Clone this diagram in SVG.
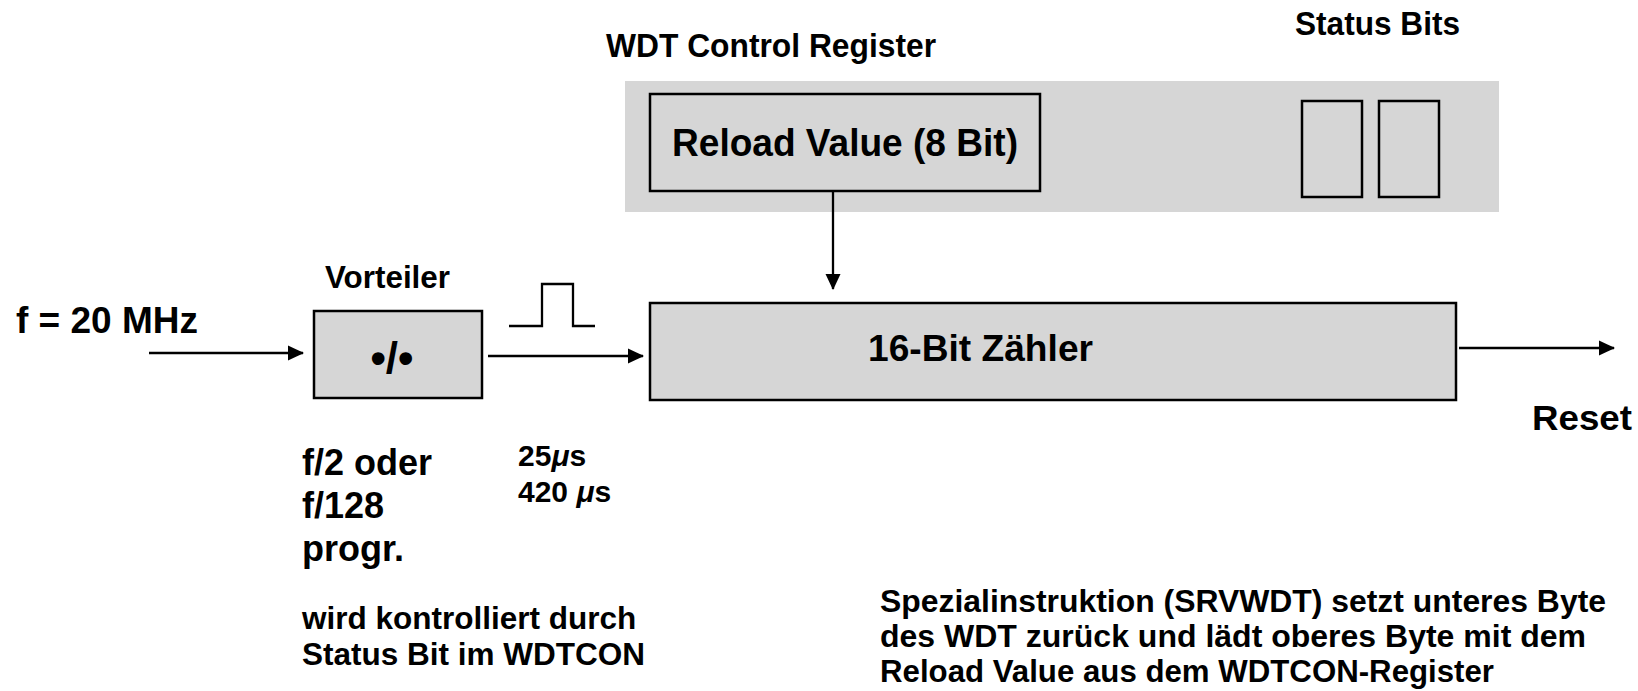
<svg xmlns="http://www.w3.org/2000/svg" width="1638" height="691" viewBox="0 0 1638 691">
<defs>
<marker id="ah" markerWidth="16" markerHeight="16" refX="15" refY="8" orient="auto" markerUnits="userSpaceOnUse" viewBox="0 0 16 16">
<path d="M0,0.5 L16,8 L0,15.5 z" fill="#000"/>
</marker>
<style>
text{font-family:"Liberation Sans",Arial,sans-serif;font-weight:bold;fill:#000}
.box{fill:#d6d6d6;stroke:#000;stroke-width:2.5}
.wire{stroke:#000;stroke-width:2.3;fill:none}
</style>
</defs>
<rect id="panel" x="625" y="81" width="874" height="131" fill="#d6d6d6"/>
<text x="1295" y="35" font-size="33" textLength="165" lengthAdjust="spacingAndGlyphs">Status Bits</text>
<text x="606" y="57" font-size="33" textLength="330" lengthAdjust="spacingAndGlyphs">WDT Control Register</text>
<g id="reload">
<rect class="box" x="650" y="94" width="390" height="97"/>
<text x="845" y="156" font-size="38" text-anchor="middle" textLength="346" lengthAdjust="spacingAndGlyphs">Reload Value (8 Bit)</text>
</g>
<g id="statusbits">
<rect class="box" x="1302" y="101" width="60" height="96" fill="none"/>
<rect class="box" x="1379" y="101" width="60" height="96" fill="none"/>
</g>
<g id="counter">
<rect class="box" x="650" y="303" width="806" height="97"/>
<text x="868" y="361" font-size="37" textLength="225" lengthAdjust="spacingAndGlyphs">16-Bit Zähler</text>
</g>
<g id="vorteiler">
<text x="325" y="288" font-size="32" textLength="125" lengthAdjust="spacingAndGlyphs">Vorteiler</text>
<rect class="box" x="314" y="311" width="168" height="87"/>
<text x="392" y="373" font-size="44" text-anchor="middle">•/•</text>
</g>
<g id="labels">
<text x="16" y="333" font-size="37" textLength="182" lengthAdjust="spacingAndGlyphs">f = 20 MHz</text>
<text x="1532" y="430" font-size="35" textLength="100" lengthAdjust="spacingAndGlyphs">Reset</text>
<text x="302" y="475" font-size="36">f/2 oder</text>
<text x="302" y="518" font-size="36">f/128</text>
<text x="302" y="561" font-size="36">progr.</text>
<text x="518" y="466" font-size="30">25<tspan font-style="italic">μ</tspan>s</text>
<text x="518" y="502" font-size="30">420 <tspan font-style="italic">μ</tspan>s</text>
<text x="302" y="629" font-size="31.5">wird kontrolliert durch</text>
<text x="302" y="665" font-size="31.5">Status Bit im WDTCON</text>
<text x="880" y="612" font-size="32" textLength="726" lengthAdjust="spacingAndGlyphs">Spezialinstruktion (SRVWDT) setzt unteres Byte</text>
<text x="880" y="647" font-size="32" textLength="706" lengthAdjust="spacingAndGlyphs">des WDT zurück und lädt oberes Byte mit dem</text>
<text x="880" y="682" font-size="32" textLength="614" lengthAdjust="spacingAndGlyphs">Reload Value aus dem WDTCON-Register</text>
</g>
<g id="connectors">
<line class="wire" x1="149" y1="353" x2="303" y2="353" marker-end="url(#ah)"/>
<line class="wire" x1="488" y1="356" x2="643" y2="356" marker-end="url(#ah)"/>
<line class="wire" x1="833" y1="192" x2="833" y2="289" marker-end="url(#ah)"/>
<line class="wire" x1="1459" y1="348" x2="1614" y2="348" marker-end="url(#ah)"/>
<polyline class="wire" points="509,326 542,326 542,284 573,284 573,326 595,326"/>
</g>
</svg>
